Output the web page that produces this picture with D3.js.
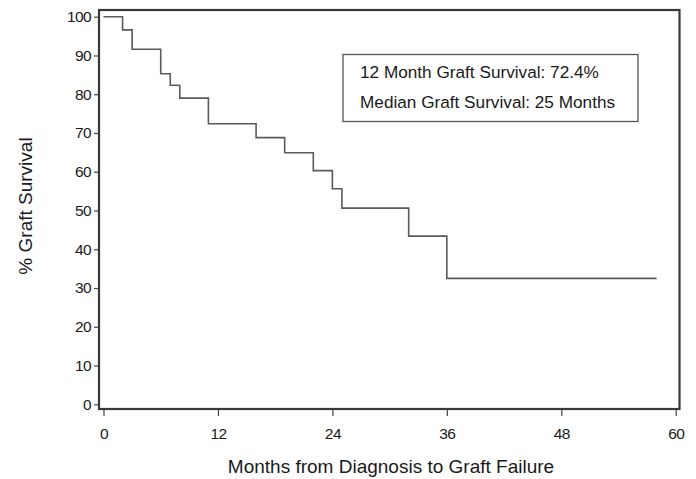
<!DOCTYPE html>
<html>
<head>
<meta charset="utf-8">
<script src="https://cdn.jsdelivr.net/npm/d3@7"></script>
<style>
  body { margin: 0; background: #fff; }
  svg text { font-family: "Liberation Sans", Arial, Helvetica, sans-serif; fill: #1a1a1a; }
  .axis line { stroke: #444; stroke-width: 1.2px; }
  .axis path { display: none; }
</style>
</head>
<body>
<div id="chart"></div>
<script>
// Kaplan-Meier step values
var months = [0, 2, 3, 6, 7, 8, 11, 16, 19, 22, 24, 25, 32, 36, 58];
var survival = [100, 96.6, 91.6, 85.3, 82.3, 79.0, 72.4, 68.8, 64.9, 60.3, 55.6, 50.6, 43.4, 32.5, 32.5];
var xTicks = [0, 12, 24, 36, 48, 60];
var yTicks = [0, 10, 20, 30, 40, 50, 60, 70, 80, 90, 100];
var legendLines = ["12 Month Graft Survival: 72.4%", "Median Graft Survival: 25 Months"];

var width = 696, height = 479;

// frame of the plot
var frame = {left: 99, top: 10, right: 679.5, bottom: 409};

var x = d3.scaleLinear().domain([0, 60]).range([103.5, 675.7]);
var y = d3.scaleLinear().domain([0, 100]).range([404.3, 16.7]);

var svg = d3.select("#chart")
    .append("svg")
        .attr("width", width)
        .attr("height", height);

// the step line
var line = d3.line()
    .curve(d3.curveStepAfter)
    .x(function(d) { return x(d[0]); })
    .y(function(d) { return y(d[1]); });

var data = months.map(function(m, i) { return [m, survival[i]]; });

svg.append("path")
    .attr("d", line(data))
    .attr("fill", "none")
    .attr("stroke", "#5a5a5a")
    .attr("stroke-width", 1.6);

// frame
svg.append("rect")
    .attr("x", frame.left)
    .attr("y", frame.top)
    .attr("width", frame.right - frame.left)
    .attr("height", frame.bottom - frame.top)
    .attr("fill", "none")
    .attr("stroke", "#383838")
    .attr("stroke-width", 2.2);

// axes
var xAxis = d3.axisBottom(x).tickValues(xTicks).tickSize(6).tickPadding(12);
var yAxis = d3.axisLeft(y).tickValues(yTicks).tickSize(4).tickPadding(3);

svg.append("g")
    .attr("class", "x axis")
    .attr("transform", "translate(0," + (frame.bottom + 1) + ")")
    .call(xAxis)
    .selectAll("text")
        .style("font-size", "15.5px")
        .attr("letter-spacing", "-0.6px");

svg.append("g")
    .attr("class", "y axis")
    .attr("transform", "translate(" + (frame.left - 1) + ",0)")
    .call(yAxis)
    .selectAll("text")
        .style("font-size", "15.5px")
        .attr("letter-spacing", "-0.6px");

// axis titles
svg.append("text")
    .attr("x", 391)
    .attr("y", 473)
    .attr("text-anchor", "middle")
    .style("font-size", "19px")
    .text("Months from Diagnosis to Graft Failure");

svg.append("text")
    .attr("transform", "translate(32,206) rotate(-90)")
    .attr("text-anchor", "middle")
    .style("font-size", "19px")
    .text("% Graft Survival");

// legend box
var box = svg.append("g");
box.append("rect")
    .attr("x", 343)
    .attr("y", 54.5)
    .attr("width", 295)
    .attr("height", 67)
    .attr("fill", "#fff")
    .attr("stroke", "#555")
    .attr("stroke-width", 1.3);

box.selectAll("text.legend")
    .data(legendLines)
    .enter()
    .append("text")
    .attr("class", "legend")
    .attr("x", 360)
    .attr("y", function(d, i) { return 77.5 + i * 30; })
    .style("font-size", "17.2px")
    .text(function(d) { return d; });
</script>
</body>
</html>
